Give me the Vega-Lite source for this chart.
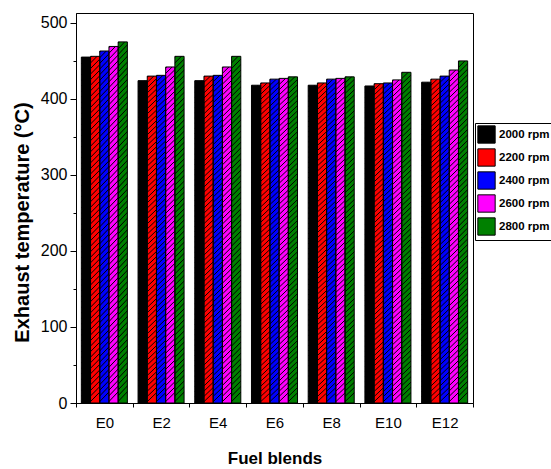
{
  "$schema": "https://vega.github.io/schema/vega-lite/v6.json",
  "width": 397,
  "height": 390,
  "autosize": {"type": "none"},
  "padding": {"left": 76, "top": 13, "right": 78, "bottom": 66},
  "background": "white",
  "config": {"font": "Liberation Sans", "view": {"stroke": "black", "strokeWidth": 1}},
  "data": {"values": [
    {"blend": "E0", "rpm": "2000 rpm", "temp": 455},
    {"blend": "E0", "rpm": "2200 rpm", "temp": 456},
    {"blend": "E0", "rpm": "2400 rpm", "temp": 463},
    {"blend": "E0", "rpm": "2600 rpm", "temp": 469},
    {"blend": "E0", "rpm": "2800 rpm", "temp": 475},
    {"blend": "E2", "rpm": "2000 rpm", "temp": 424},
    {"blend": "E2", "rpm": "2200 rpm", "temp": 430},
    {"blend": "E2", "rpm": "2400 rpm", "temp": 431},
    {"blend": "E2", "rpm": "2600 rpm", "temp": 442},
    {"blend": "E2", "rpm": "2800 rpm", "temp": 456},
    {"blend": "E4", "rpm": "2000 rpm", "temp": 424},
    {"blend": "E4", "rpm": "2200 rpm", "temp": 430},
    {"blend": "E4", "rpm": "2400 rpm", "temp": 431},
    {"blend": "E4", "rpm": "2600 rpm", "temp": 442},
    {"blend": "E4", "rpm": "2800 rpm", "temp": 456},
    {"blend": "E6", "rpm": "2000 rpm", "temp": 418},
    {"blend": "E6", "rpm": "2200 rpm", "temp": 421},
    {"blend": "E6", "rpm": "2400 rpm", "temp": 426},
    {"blend": "E6", "rpm": "2600 rpm", "temp": 427},
    {"blend": "E6", "rpm": "2800 rpm", "temp": 429},
    {"blend": "E8", "rpm": "2000 rpm", "temp": 418},
    {"blend": "E8", "rpm": "2200 rpm", "temp": 421},
    {"blend": "E8", "rpm": "2400 rpm", "temp": 426},
    {"blend": "E8", "rpm": "2600 rpm", "temp": 427},
    {"blend": "E8", "rpm": "2800 rpm", "temp": 429},
    {"blend": "E10", "rpm": "2000 rpm", "temp": 417},
    {"blend": "E10", "rpm": "2200 rpm", "temp": 420},
    {"blend": "E10", "rpm": "2400 rpm", "temp": 421},
    {"blend": "E10", "rpm": "2600 rpm", "temp": 425},
    {"blend": "E10", "rpm": "2800 rpm", "temp": 435},
    {"blend": "E12", "rpm": "2000 rpm", "temp": 422},
    {"blend": "E12", "rpm": "2200 rpm", "temp": 426},
    {"blend": "E12", "rpm": "2400 rpm", "temp": 430},
    {"blend": "E12", "rpm": "2600 rpm", "temp": 438},
    {"blend": "E12", "rpm": "2800 rpm", "temp": 450}
  ]},
  "encoding": {
    "x": {
      "field": "blend", "type": "nominal",
      "sort": ["E0", "E2", "E4", "E6", "E8", "E10", "E12"],
      "scale": {"paddingInner": 0, "paddingOuter": 0},
      "axis": {
        "title": "Fuel blends", "titleFontSize": 17, "titleFontWeight": "bold", "titleColor": "black",
        "titleBaseline": "alphabetic", "titleY": 60,
        "labelAngle": 0, "labelFontSize": 15, "labelColor": "black", "labelPadding": 8,
        "tickBand": "extent", "tickSize": 4, "tickColor": "black", "domainColor": "black"
      }
    },
    "xOffset": {
      "field": "rpm", "type": "nominal",
      "sort": ["2000 rpm", "2200 rpm", "2400 rpm", "2600 rpm", "2800 rpm"],
      "scale": {"paddingInner": 0, "paddingOuter": 0.58}
    },
    "y": {
      "field": "temp", "type": "quantitative",
      "scale": {"domain": [0, 513], "nice": false},
      "axis": {
        "title": "Exhaust temperature (°C)", "titleFontSize": 20, "titleFontWeight": "bold", "titleColor": "black",
        "titleX": -54, "titleY": 209, "titleBaseline": "middle",
        "values": [0, 50, 100, 150, 200, 250, 300, 350, 400, 450, 500],
        "labelExpr": "datum.value % 100 === 0 ? datum.label : ''",
        "labelFontSize": 16, "labelColor": "black", "labelPadding": 3,
        "tickSize": {"condition": {"test": "datum.value % 100 === 0", "value": 6}, "value": 3},
        "tickColor": "black", "domainColor": "black", "grid": false
      }
    }
  },
  "layer": [
    {
      "mark": {"type": "bar"},
      "encoding": {
        "color": {
          "field": "rpm", "type": "nominal",
          "sort": ["2000 rpm", "2200 rpm", "2400 rpm", "2600 rpm", "2800 rpm"],
          "scale": {"range": ["#000000", "#ff0000", "#0000ff", "#ff00ff", "#008000"]},
          "legend": {
            "orient": "none", "legendX": 399, "legendY": 110, "title": null,
            "strokeColor": "black", "fillColor": "white", "padding": 2,
            "symbolType": "square", "symbolSize": 300, "symbolStrokeColor": "black", "symbolStrokeWidth": 1, "symbolOpacity": 1,
            "labelFontSize": 11.5, "labelFontWeight": "bold", "labelColor": "black", "labelOffset": 3, "rowPadding": 0
          }
        }
      }
    },
    {
      "mark": {
        "type": "bar", "stroke": "black", "strokeWidth": 1,
        "fill": {
          "gradient": "linear", "x1": 0, "y1": 0, "x2": 0.027, "y2": 1,
          "stops": [
            {"offset": 0, "color": "rgba(0,0,0,0)"}, {"offset": 0.003, "color": "#000"}, {"offset": 0.006, "color": "rgba(0,0,0,0)"},
            {"offset": 0.016, "color": "rgba(0,0,0,0)"}, {"offset": 0.019, "color": "#000"}, {"offset": 0.022, "color": "rgba(0,0,0,0)"},
            {"offset": 0.032, "color": "rgba(0,0,0,0)"}, {"offset": 0.035, "color": "#000"}, {"offset": 0.038, "color": "rgba(0,0,0,0)"},
            {"offset": 0.048, "color": "rgba(0,0,0,0)"}, {"offset": 0.051, "color": "#000"}, {"offset": 0.054, "color": "rgba(0,0,0,0)"},
            {"offset": 0.064, "color": "rgba(0,0,0,0)"}, {"offset": 0.067, "color": "#000"}, {"offset": 0.07, "color": "rgba(0,0,0,0)"},
            {"offset": 0.08, "color": "rgba(0,0,0,0)"}, {"offset": 0.083, "color": "#000"}, {"offset": 0.086, "color": "rgba(0,0,0,0)"},
            {"offset": 0.096, "color": "rgba(0,0,0,0)"}, {"offset": 0.099, "color": "#000"}, {"offset": 0.102, "color": "rgba(0,0,0,0)"},
            {"offset": 0.112, "color": "rgba(0,0,0,0)"}, {"offset": 0.115, "color": "#000"}, {"offset": 0.118, "color": "rgba(0,0,0,0)"},
            {"offset": 0.128, "color": "rgba(0,0,0,0)"}, {"offset": 0.131, "color": "#000"}, {"offset": 0.134, "color": "rgba(0,0,0,0)"},
            {"offset": 0.144, "color": "rgba(0,0,0,0)"}, {"offset": 0.147, "color": "#000"}, {"offset": 0.15, "color": "rgba(0,0,0,0)"},
            {"offset": 0.16, "color": "rgba(0,0,0,0)"}, {"offset": 0.163, "color": "#000"}, {"offset": 0.166, "color": "rgba(0,0,0,0)"},
            {"offset": 0.176, "color": "rgba(0,0,0,0)"}, {"offset": 0.179, "color": "#000"}, {"offset": 0.182, "color": "rgba(0,0,0,0)"},
            {"offset": 0.192, "color": "rgba(0,0,0,0)"}, {"offset": 0.195, "color": "#000"}, {"offset": 0.198, "color": "rgba(0,0,0,0)"},
            {"offset": 0.208, "color": "rgba(0,0,0,0)"}, {"offset": 0.211, "color": "#000"}, {"offset": 0.214, "color": "rgba(0,0,0,0)"},
            {"offset": 0.224, "color": "rgba(0,0,0,0)"}, {"offset": 0.227, "color": "#000"}, {"offset": 0.23, "color": "rgba(0,0,0,0)"},
            {"offset": 0.24, "color": "rgba(0,0,0,0)"}, {"offset": 0.243, "color": "#000"}, {"offset": 0.246, "color": "rgba(0,0,0,0)"},
            {"offset": 0.256, "color": "rgba(0,0,0,0)"}, {"offset": 0.259, "color": "#000"}, {"offset": 0.262, "color": "rgba(0,0,0,0)"},
            {"offset": 0.272, "color": "rgba(0,0,0,0)"}, {"offset": 0.275, "color": "#000"}, {"offset": 0.278, "color": "rgba(0,0,0,0)"},
            {"offset": 0.288, "color": "rgba(0,0,0,0)"}, {"offset": 0.291, "color": "#000"}, {"offset": 0.294, "color": "rgba(0,0,0,0)"},
            {"offset": 0.304, "color": "rgba(0,0,0,0)"}, {"offset": 0.307, "color": "#000"}, {"offset": 0.31, "color": "rgba(0,0,0,0)"},
            {"offset": 0.32, "color": "rgba(0,0,0,0)"}, {"offset": 0.323, "color": "#000"}, {"offset": 0.326, "color": "rgba(0,0,0,0)"},
            {"offset": 0.336, "color": "rgba(0,0,0,0)"}, {"offset": 0.339, "color": "#000"}, {"offset": 0.342, "color": "rgba(0,0,0,0)"},
            {"offset": 0.352, "color": "rgba(0,0,0,0)"}, {"offset": 0.355, "color": "#000"}, {"offset": 0.358, "color": "rgba(0,0,0,0)"},
            {"offset": 0.368, "color": "rgba(0,0,0,0)"}, {"offset": 0.371, "color": "#000"}, {"offset": 0.374, "color": "rgba(0,0,0,0)"},
            {"offset": 0.384, "color": "rgba(0,0,0,0)"}, {"offset": 0.387, "color": "#000"}, {"offset": 0.39, "color": "rgba(0,0,0,0)"},
            {"offset": 0.4, "color": "rgba(0,0,0,0)"}, {"offset": 0.403, "color": "#000"}, {"offset": 0.406, "color": "rgba(0,0,0,0)"},
            {"offset": 0.416, "color": "rgba(0,0,0,0)"}, {"offset": 0.419, "color": "#000"}, {"offset": 0.422, "color": "rgba(0,0,0,0)"},
            {"offset": 0.432, "color": "rgba(0,0,0,0)"}, {"offset": 0.435, "color": "#000"}, {"offset": 0.438, "color": "rgba(0,0,0,0)"},
            {"offset": 0.448, "color": "rgba(0,0,0,0)"}, {"offset": 0.451, "color": "#000"}, {"offset": 0.454, "color": "rgba(0,0,0,0)"},
            {"offset": 0.464, "color": "rgba(0,0,0,0)"}, {"offset": 0.467, "color": "#000"}, {"offset": 0.47, "color": "rgba(0,0,0,0)"},
            {"offset": 0.48, "color": "rgba(0,0,0,0)"}, {"offset": 0.483, "color": "#000"}, {"offset": 0.486, "color": "rgba(0,0,0,0)"},
            {"offset": 0.496, "color": "rgba(0,0,0,0)"}, {"offset": 0.499, "color": "#000"}, {"offset": 0.502, "color": "rgba(0,0,0,0)"},
            {"offset": 0.512, "color": "rgba(0,0,0,0)"}, {"offset": 0.515, "color": "#000"}, {"offset": 0.518, "color": "rgba(0,0,0,0)"},
            {"offset": 0.528, "color": "rgba(0,0,0,0)"}, {"offset": 0.531, "color": "#000"}, {"offset": 0.534, "color": "rgba(0,0,0,0)"},
            {"offset": 0.544, "color": "rgba(0,0,0,0)"}, {"offset": 0.547, "color": "#000"}, {"offset": 0.55, "color": "rgba(0,0,0,0)"},
            {"offset": 0.56, "color": "rgba(0,0,0,0)"}, {"offset": 0.563, "color": "#000"}, {"offset": 0.566, "color": "rgba(0,0,0,0)"},
            {"offset": 0.576, "color": "rgba(0,0,0,0)"}, {"offset": 0.579, "color": "#000"}, {"offset": 0.582, "color": "rgba(0,0,0,0)"},
            {"offset": 0.592, "color": "rgba(0,0,0,0)"}, {"offset": 0.595, "color": "#000"}, {"offset": 0.598, "color": "rgba(0,0,0,0)"},
            {"offset": 0.608, "color": "rgba(0,0,0,0)"}, {"offset": 0.611, "color": "#000"}, {"offset": 0.614, "color": "rgba(0,0,0,0)"},
            {"offset": 0.624, "color": "rgba(0,0,0,0)"}, {"offset": 0.627, "color": "#000"}, {"offset": 0.63, "color": "rgba(0,0,0,0)"},
            {"offset": 0.64, "color": "rgba(0,0,0,0)"}, {"offset": 0.643, "color": "#000"}, {"offset": 0.646, "color": "rgba(0,0,0,0)"},
            {"offset": 0.656, "color": "rgba(0,0,0,0)"}, {"offset": 0.659, "color": "#000"}, {"offset": 0.662, "color": "rgba(0,0,0,0)"},
            {"offset": 0.672, "color": "rgba(0,0,0,0)"}, {"offset": 0.675, "color": "#000"}, {"offset": 0.678, "color": "rgba(0,0,0,0)"},
            {"offset": 0.688, "color": "rgba(0,0,0,0)"}, {"offset": 0.691, "color": "#000"}, {"offset": 0.694, "color": "rgba(0,0,0,0)"},
            {"offset": 0.704, "color": "rgba(0,0,0,0)"}, {"offset": 0.707, "color": "#000"}, {"offset": 0.71, "color": "rgba(0,0,0,0)"},
            {"offset": 0.72, "color": "rgba(0,0,0,0)"}, {"offset": 0.723, "color": "#000"}, {"offset": 0.726, "color": "rgba(0,0,0,0)"},
            {"offset": 0.736, "color": "rgba(0,0,0,0)"}, {"offset": 0.739, "color": "#000"}, {"offset": 0.742, "color": "rgba(0,0,0,0)"},
            {"offset": 0.752, "color": "rgba(0,0,0,0)"}, {"offset": 0.755, "color": "#000"}, {"offset": 0.758, "color": "rgba(0,0,0,0)"},
            {"offset": 0.768, "color": "rgba(0,0,0,0)"}, {"offset": 0.771, "color": "#000"}, {"offset": 0.774, "color": "rgba(0,0,0,0)"},
            {"offset": 0.784, "color": "rgba(0,0,0,0)"}, {"offset": 0.787, "color": "#000"}, {"offset": 0.79, "color": "rgba(0,0,0,0)"},
            {"offset": 0.8, "color": "rgba(0,0,0,0)"}, {"offset": 0.803, "color": "#000"}, {"offset": 0.806, "color": "rgba(0,0,0,0)"},
            {"offset": 0.816, "color": "rgba(0,0,0,0)"}, {"offset": 0.819, "color": "#000"}, {"offset": 0.822, "color": "rgba(0,0,0,0)"},
            {"offset": 0.832, "color": "rgba(0,0,0,0)"}, {"offset": 0.835, "color": "#000"}, {"offset": 0.838, "color": "rgba(0,0,0,0)"},
            {"offset": 0.848, "color": "rgba(0,0,0,0)"}, {"offset": 0.851, "color": "#000"}, {"offset": 0.854, "color": "rgba(0,0,0,0)"},
            {"offset": 0.864, "color": "rgba(0,0,0,0)"}, {"offset": 0.867, "color": "#000"}, {"offset": 0.87, "color": "rgba(0,0,0,0)"},
            {"offset": 0.88, "color": "rgba(0,0,0,0)"}, {"offset": 0.883, "color": "#000"}, {"offset": 0.886, "color": "rgba(0,0,0,0)"},
            {"offset": 0.896, "color": "rgba(0,0,0,0)"}, {"offset": 0.899, "color": "#000"}, {"offset": 0.902, "color": "rgba(0,0,0,0)"},
            {"offset": 0.912, "color": "rgba(0,0,0,0)"}, {"offset": 0.915, "color": "#000"}, {"offset": 0.918, "color": "rgba(0,0,0,0)"},
            {"offset": 0.928, "color": "rgba(0,0,0,0)"}, {"offset": 0.931, "color": "#000"}, {"offset": 0.934, "color": "rgba(0,0,0,0)"},
            {"offset": 0.944, "color": "rgba(0,0,0,0)"}, {"offset": 0.947, "color": "#000"}, {"offset": 0.95, "color": "rgba(0,0,0,0)"},
            {"offset": 0.96, "color": "rgba(0,0,0,0)"}, {"offset": 0.963, "color": "#000"}, {"offset": 0.966, "color": "rgba(0,0,0,0)"},
            {"offset": 0.976, "color": "rgba(0,0,0,0)"}, {"offset": 0.979, "color": "#000"}, {"offset": 0.982, "color": "rgba(0,0,0,0)"},
            {"offset": 0.992, "color": "rgba(0,0,0,0)"}, {"offset": 0.995, "color": "#000"}, {"offset": 0.998, "color": "rgba(0,0,0,0)"}
          ]
        }
      }
    }
  ]
}
